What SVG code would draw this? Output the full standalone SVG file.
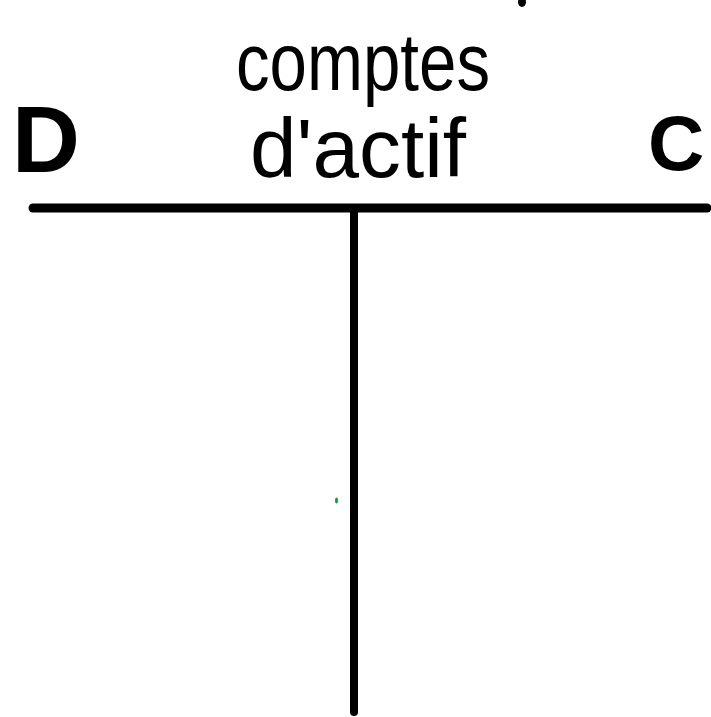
<svg xmlns="http://www.w3.org/2000/svg" width="711" height="717" viewBox="0 0 711 717">
<style>
.t{font-family:"Liberation Sans",Arial,sans-serif;fill:#000}
.big{font-weight:bold}
.ln{stroke:#000;stroke-linecap:round;fill:none}
</style>
<rect width="711" height="717" fill="#fff"/>
<g id="title">
<text class="t" x="236" y="90" font-size="82" textLength="254" lengthAdjust="spacingAndGlyphs">comptes</text>
<text class="t" x="250" y="177" font-size="84" textLength="216" lengthAdjust="spacingAndGlyphs">d'actif</text>
</g>
<g id="debit"><text class="t big" x="12" y="172" font-size="94">D</text></g>
<g id="credit"><text class="t big" x="648" y="170" font-size="78">C</text></g>
<g id="connectors">
<line class="ln" x1="33" y1="208" x2="707" y2="208" stroke-width="9"/>
<line class="ln" x1="354" y1="210" x2="354" y2="712" stroke-width="8"/>
<ellipse cx="522" cy="2" rx="4" ry="5" fill="#000"/>
<ellipse cx="336.5" cy="500.5" rx="1.5" ry="3" fill="#1a9a48"/>
</g>
</svg>
